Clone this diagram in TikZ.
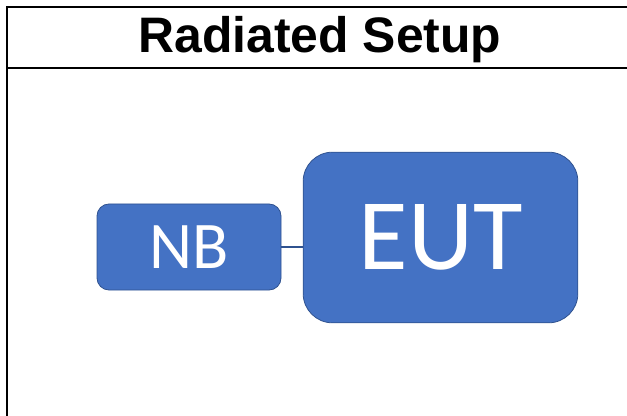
\documentclass[tikz,border=0pt]{standalone}
\usepackage{fontspec}
\setmainfont{Carlito}
\newfontfamily\titlefont{Liberation Sans}
\usetikzlibrary{positioning}

\definecolor{boxblue}{HTML}{4472C4}
\definecolor{boxedge}{HTML}{2F528F}

\begin{document}
\begin{tikzpicture}[x=0.75pt, y=-0.75pt,
    frame/.style={line width=2.2pt},
    unit/.style={fill=boxblue, draw=boxedge, line width=0.6pt, text=white, inner sep=0pt},
    link/.style={draw=boxedge, line width=1.2pt}]
    \useasboundingbox (0,0) rectangle (627,416);

    % Frame and header
    \draw[frame] (7,416) -- (7,7) -- (627,7);
    \draw[frame] (7,68) -- (627,68);
    \node (title) at (320,40) {\titlefont\bfseries\fontsize{37.4}{40}\selectfont Radiated Setup};

    % Boxes
    \node[unit, rounded corners=22pt, minimum width=206pt, minimum height=128pt,
          font=\fontsize{76}{80}\selectfont] (eut) at (440.5,237.5) {EUT};
    \node[unit, rounded corners=9pt, minimum width=138pt, minimum height=64.5pt,
          font=\fontsize{50}{54}\selectfont] (nb) at (189,247) {NB};

    % Connection
    \draw[link] (nb.east) -- (nb.east -| eut.west);
\end{tikzpicture}
\end{document}
